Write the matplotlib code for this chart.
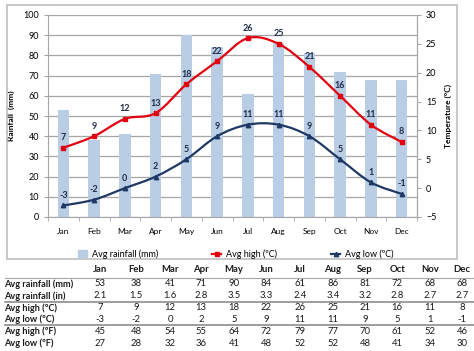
import numpy as np
import matplotlib.pyplot as plt
from matplotlib.path import Path
from matplotlib.patches import PathPatch, Rectangle
from matplotlib.lines import Line2D

months = ['Jan', 'Feb', 'Mar', 'Apr', 'May', 'Jun', 'Jul', 'Aug', 'Sep', 'Oct', 'Nov', 'Dec']
rain_mm = [53, 38, 41, 71, 90, 84, 61, 86, 81, 72, 68, 68]
rain_in = ['2.1', '1.5', '1.6', '2.8', '3.5', '3.3', '2.4', '3.4', '3.2', '2.8', '2.7', '2.7']
high_c = [7, 9, 12, 13, 18, 22, 26, 25, 21, 16, 11, 8]
low_c = [-3, -2, 0, 2, 5, 9, 11, 11, 9, 5, 1, -1]
high_f = [45, 48, 54, 55, 64, 72, 79, 77, 70, 61, 52, 46]
low_f = [27, 28, 32, 36, 41, 48, 52, 52, 48, 41, 34, 30]

plt.rcParams['font.family'] = ['Lato', 'DejaVu Sans']

BAR = '#b9cde5'
RED = '#e3000f'
NAVY = '#1f3864'
GRID = '#a6a6a6'


def smooth_path(xs, ys, t=0.5):
    # cardinal spline as cubic bezier segments (like Excel "smoothed line")
    xs = np.asarray(xs, float)
    ys = np.asarray(ys, float)
    n = len(xs)
    verts = [(xs[0], ys[0])]
    codes = [Path.MOVETO]
    for i in range(n - 1):
        p0 = i - 1 if i > 0 else i
        p3 = i + 2 if i + 2 < n else i + 1
        c1 = (xs[i] + (xs[i + 1] - xs[p0]) * t / 3, ys[i] + (ys[i + 1] - ys[p0]) * t / 3)
        c2 = (xs[i + 1] - (xs[p3] - xs[i]) * t / 3, ys[i + 1] - (ys[p3] - ys[i]) * t / 3)
        verts += [c1, c2, (xs[i + 1], ys[i + 1])]
        codes += [Path.CURVE4] * 3
    return Path(verts, codes)


fig = plt.figure(figsize=(4.74, 3.51), dpi=100)
fig.patches.append(Rectangle((7 / 474, 1 - 259 / 351), 450 / 474, 254 / 351,
                             transform=fig.transFigure, fill=False,
                             edgecolor='#bfbfbf', linewidth=1.2))

ax = fig.add_axes([48 / 474, 1 - 217 / 351, 369 / 474, 202 / 351])
x = np.arange(len(months))
ax.bar(x, rain_mm, width=0.38, color=BAR, zorder=2)
ax.set_xlim(-0.5, 11.5)
ax.set_ylim(0, 100)
ax.set_yticks(range(0, 101, 10))
ax.yaxis.grid(True, color=GRID, linewidth=0.9, zorder=0)
ax.set_axisbelow(True)
ax.set_xticks(x)
ax.set_xticklabels(months)
ax.set_xticks(np.arange(-0.5, 12, 1), minor=True)
ax.tick_params(axis='x', which='major', length=0, labelsize=6, pad=8)
ax.tick_params(axis='x', which='minor', length=3, color=GRID)
ax.tick_params(axis='y', labelsize=6.5, length=3, color=GRID)
ax.spines['top'].set_visible(False)
for s in ['left', 'right', 'bottom']:
    ax.spines[s].set_color(GRID)
ax.set_ylabel('Rainfall  (mm)', fontsize=6, fontweight='bold', labelpad=6)

ax2 = ax.twinx()
ax2.set_ylim(-5, 30)
ax2.set_yticks(range(-5, 31, 5))
ax2.tick_params(axis='y', labelsize=6.5, length=3, color=GRID)
for s in ['top', 'left', 'bottom']:
    ax2.spines[s].set_visible(False)
ax2.spines['right'].set_color(GRID)
ax2.set_ylabel('Temperature (ºC)', fontsize=6, fontweight='bold', labelpad=6)

for vals, col, mk in [(high_c, RED, 's'), (low_c, NAVY, '^')]:
    ax2.add_patch(PathPatch(smooth_path(x, vals), fill=False, edgecolor=col,
                            linewidth=1.6, zorder=3))
    ax2.plot(x, vals, linestyle='none', marker=mk, markersize=3.2, color=col, zorder=4)
    for xi, v in zip(x, vals):
        ax2.annotate(str(v), (xi, v), xytext=(0, 4), textcoords='offset points',
                     ha='center', va='bottom', fontsize=6.5, fontweight='bold',
                     color='#1f2d4a', zorder=5)

# legend entries placed one by one, as in the source layout
entries = [(Rectangle((0, 0), 1, 1, color=BAR), 'Avg rainfall (mm)', 78),
           (Line2D([], [], color=RED, marker='s', markersize=3.2, linewidth=1.6),
            'Avg high (ºC)', 212),
           (Line2D([], [], color=NAVY, marker='^', markersize=3.2, linewidth=1.6),
            'Avg low (ºC)', 331)]
for h, lab, lx in entries:
    fig.legend([h], [lab], loc='center left', bbox_to_anchor=(lx / 474, 1 - 254 / 351),
               frameon=False, fontsize=6.5, handlelength=1.0, handletextpad=0.5,
               borderpad=0, borderaxespad=0)

# data table below the chart
col_x = [100, 136, 170, 201, 234, 266, 300, 333, 365, 397, 430, 462]
rows = [('Avg rainfall (mm)', rain_mm), ('Avg rainfall (in)', rain_in),
        ('Avg high (ºC)', high_c), ('Avg low (ºC)', low_c),
        ('Avg high (ºF)', high_f), ('Avg low (ºF)', low_f)]
row_y = [284, 296, 308, 319, 331, 343]

for cx, m in zip(col_x, months):
    fig.text(cx / 474, 1 - 270 / 351, m, ha='center', va='center',
             fontsize=6.8, fontweight='bold', color='#1a1a1a')
for (label, vals), ry in zip(rows, row_y):
    fig.text(4 / 474, 1 - ry / 351, label, ha='left', va='center',
             fontsize=6.6, fontweight='bold', color='#1a1a1a')
    for cx, v in zip(col_x, vals):
        fig.text(cx / 474, 1 - ry / 351, str(v), ha='center', va='center',
                 fontsize=6.8, color='#1a1a1a')

for ly, lw, lc in [(278, 0.8, '#a6a6a6'), (302, 1.2, '#8c8c8c'), (325, 1.2, '#8c8c8c')]:
    fig.add_artist(Line2D([5 / 474, 474 / 474], [1 - ly / 351] * 2,
                          transform=fig.transFigure, color=lc, linewidth=lw))

fig.savefig('out.png', dpi=100)
